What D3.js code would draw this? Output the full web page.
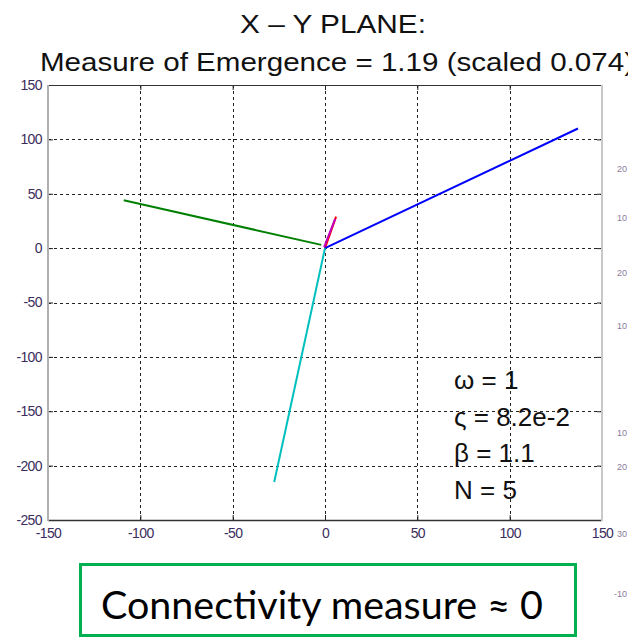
<!DOCTYPE html>
<html>
<head>
<meta charset="utf-8">
<script src="https://cdn.jsdelivr.net/npm/d3@7"></script>
<style>
  html, body { margin: 0; padding: 0; background: #fff; }
  svg { display: block; }
</style>
</head>
<body>
<svg id="chart" width="628" height="637"></svg>
<script>
// ---- data ----
const titleLines = ["X \u2013 Y PLANE:", "Measure of Emergence = 1.19 (scaled 0.074)"];
const xTicks = [-150, -100, -50, 0, 50, 100, 150];
const yTicks = [150, 100, 50, 0, -50, -100, -150, -200, -250];
const vectorNames = ["red", "magenta", "blue", "green", "cyan"];
const vectorEndX = [6, 5.5, 137, -109, -27.5];
const vectorEndY = [29, 27, 110, 44, -215];
const vectorStartX = [0, -0.5, 0, -2, 0];
const vectorStartY = [0, 1, 0, 3, 0];
const paramLabels = ["\u03c9 = 1", "\u03c2 = 8.2e-2", "\u03b2 = 1.1", "N = 5"];
const footerText = "Connectivity measure \u2248 0";
const edgeFragments = ["20", "10", "20", "10", "10", "20", "30", "-10"];

// ---- layout ----
const colors = { red: "#ff0000", magenta: "#c000c0", blue: "#0000ff", green: "#008000", cyan: "#00bfbf" };
const plot = { left: 48, right: 602, top: 85, bottom: 520 };
const edgeFragmentY = [168, 217, 272, 325, 432, 466, 533, 593];

const svg = d3.select("#chart");
const x = d3.scaleLinear().domain([-150, 150]).range([plot.left, plot.right]);
const y = d3.scaleLinear().domain([-250, 150]).range([plot.bottom, plot.top]);

// titles
svg.append("text")
  .attr("x", 240).attr("y", 33)
  .attr("textLength", 186).attr("lengthAdjust", "spacingAndGlyphs")
  .style("font-family", "'Liberation Sans', Arial, sans-serif")
  .style("font-size", "26px").attr("fill", "#111")
  .text(titleLines[0]);
svg.append("text")
  .attr("x", 40).attr("y", 71)
  .attr("textLength", 594).attr("lengthAdjust", "spacingAndGlyphs")
  .style("font-family", "'Liberation Sans', Arial, sans-serif")
  .style("font-size", "26px").attr("fill", "#111")
  .text(titleLines[1]);

// grid
const grid = svg.append("g").attr("stroke", "#222").attr("stroke-width", 1)
  .attr("stroke-dasharray", "3,3").attr("shape-rendering", "crispEdges");
grid.selectAll("line.gx").data(xTicks.slice(1, -1)).join("line")
  .attr("x1", d => Math.round(x(d)) + 0.5).attr("x2", d => Math.round(x(d)) + 0.5)
  .attr("y1", plot.top).attr("y2", plot.bottom);
grid.selectAll("line.gy").data(yTicks.slice(1, -1)).join("line")
  .attr("y1", d => Math.round(y(d)) + 0.5).attr("y2", d => Math.round(y(d)) + 0.5)
  .attr("x1", plot.left).attr("x2", plot.right);

// axes with inward ticks
const axisFont = "'Liberation Sans', Arial, sans-serif";
const plain = d => String(d);
const styleAxis = g => {
  g.select(".domain").remove();
  g.selectAll(".tick line").attr("stroke", "#222");
  g.selectAll(".tick text").attr("fill", "#3b2d5c")
    .style("font-family", axisFont).style("font-size", "14px")
    .style("letter-spacing", "-0.6px");
};
svg.append("g").attr("transform", `translate(0,${plot.bottom})`)
  .call(d3.axisBottom(x).tickValues(xTicks).tickSize(-5).tickPadding(8).tickFormat(plain))
  .call(styleAxis);
svg.append("g").attr("transform", `translate(${plot.left},0)`)
  .call(d3.axisLeft(y).tickValues(yTicks).tickSize(-5).tickPadding(6).tickFormat(plain))
  .call(styleAxis);
svg.append("g").attr("transform", `translate(0,${plot.top})`)
  .call(d3.axisTop(x).tickValues(xTicks).tickSize(-5).tickFormat(""))
  .call(styleAxis);
svg.append("g").attr("transform", `translate(${plot.right},0)`)
  .call(d3.axisRight(y).tickValues(yTicks).tickSize(-5).tickFormat(""))
  .call(styleAxis);

// frame: dark top/bottom, light gray sides
svg.append("line").attr("x1", plot.left).attr("x2", plot.right)
  .attr("y1", plot.top + 0.5).attr("y2", plot.top + 0.5).attr("stroke", "#333");
svg.append("line").attr("x1", plot.left).attr("x2", plot.right)
  .attr("y1", plot.bottom + 0.5).attr("y2", plot.bottom + 0.5).attr("stroke", "#333").attr("stroke-width", 1.5);
svg.append("line").attr("x1", plot.left).attr("x2", plot.left)
  .attr("y1", plot.top).attr("y2", plot.bottom + 1).attr("stroke", "#b0b0b0").attr("stroke-width", 2);
svg.append("line").attr("x1", plot.right).attr("x2", plot.right)
  .attr("y1", plot.top).attr("y2", plot.bottom + 1).attr("stroke", "#c8c8c8").attr("stroke-width", 2);

// vectors from the origin
const vectors = vectorNames.map((n, i) => ({
  name: n, x0: vectorStartX[i], y0: vectorStartY[i], x1: vectorEndX[i], y1: vectorEndY[i]
}));
svg.append("g").selectAll("line").data(vectors).join("line")
  .attr("x1", d => x(d.x0)).attr("y1", d => y(d.y0))
  .attr("x2", d => x(d.x1)).attr("y2", d => y(d.y1))
  .attr("stroke", d => colors[d.name]).attr("stroke-width", 2)
  .attr("stroke-linecap", "butt");

// parameter annotations
svg.append("g").selectAll("text").data(paramLabels).join("text")
  .attr("x", 454).attr("y", (d, i) => 389 + i * 36.5)
  .style("font-family", "'Liberation Sans', Arial, sans-serif")
  .style("font-size", "26px").attr("fill", "#111")
  .text(d => d);

// neighbouring axis labels at the right edge
svg.append("g").selectAll("text").data(edgeFragments).join("text")
  .attr("x", 627).attr("text-anchor", "end")
  .attr("y", (d, i) => edgeFragmentY[i] + 4)
  .style("font-family", axisFont).style("font-size", "9px")
  .attr("fill", "#8a7a9a")
  .text(d => d);

// footer box
svg.append("rect")
  .attr("x", 80.5).attr("y", 564.5).attr("width", 495).attr("height", 71)
  .attr("fill", "none").attr("stroke", "#00b050").attr("stroke-width", 3);
svg.append("text")
  .attr("x", 101).attr("y", 619)
  .attr("textLength", 442).attr("lengthAdjust", "spacingAndGlyphs")
  .style("font-family", "Lato, 'Open Sans', sans-serif")
  .style("font-size", "39px").attr("fill", "#000")
  .text(footerText);
</script>
</body>
</html>
